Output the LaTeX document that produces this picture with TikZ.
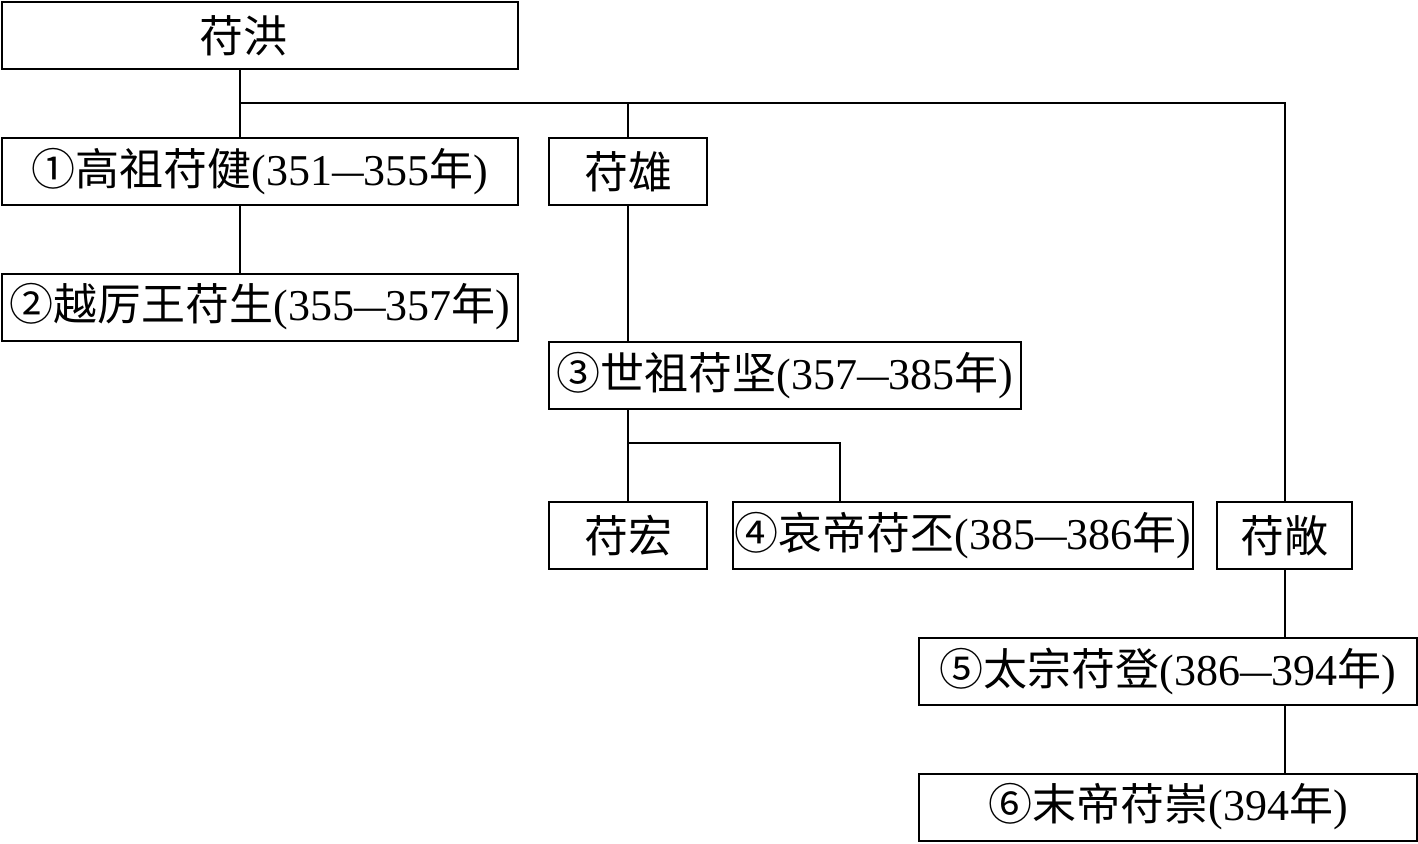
\documentclass[tikz,border=0pt]{standalone}
\usepackage{fontspec}
\usepackage{graphicx}
\setmainfont{Liberation Serif}
\newfontfamily\cjk{Noto Sans CJK SC}
\newcommand{\yeardash}{\scalebox{0.72}[1]{—}}

\begin{document}
\begin{tikzpicture}[x=0.5pt, y=-0.5pt, line width=1pt,
    person/.style = {rectangle, draw, minimum height=33.5pt, inner sep=0pt},
    font=\fontsize{22pt}{26pt}\selectfont]
  \useasboundingbox (0, 0) rectangle (1418, 843);

  % Persons.
  \node at (260, 35.5) [person, minimum width=258pt, name=Hong] {\cjk\hspace*{-17pt}苻洪};
  \node at (260, 171.5) [person, minimum width=258pt, name=Gaozu] {{\cjk ①高祖苻健}(351\yeardash355{\cjk 年})};
  \node at (628, 171.5) [person, minimum width=79pt, name=Xiong] {\cjk 苻雄};
  \node at (260, 307) [person, minimum width=258pt, name=Yueli] {{\cjk ②越厉王苻生}(355\yeardash357{\cjk 年})};
  \node at (785, 375.5) [person, minimum width=236pt, name=Shizu] {{\cjk ③世祖苻坚}(357\yeardash385{\cjk 年})};
  \node at (628, 535.5) [person, minimum width=79pt, name=HongSon] {\cjk 苻宏};
  \node at (963, 535.5) [person, minimum width=230pt, name=Aidi] {{\cjk ④哀帝苻丕}(385\yeardash386{\cjk 年})};
  \node at (1284.5, 535.5) [person, minimum width=67.5pt, name=Chang] {\cjk 苻敞};
  \node at (1168, 671.5) [person, minimum width=249pt, name=Taizong] {{\cjk ⑤太宗苻登}(386\yeardash394{\cjk 年})};
  \node at (1168, 807) [person, minimum width=249pt, name=Modi] {{\cjk ⑥末帝苻崇}(394{\cjk 年})};

  % Sons of Fu Hong
  \coordinate (Trunk) at (240, 103);
  \draw (Trunk |- Hong.south) -- (Trunk |- Gaozu.north);
  \draw (Trunk) -| (Chang.north);
  \draw (Xiong.north) -- (Xiong.north |- Trunk);

  % Lines of descent
  \draw (Trunk |- Gaozu.south) -- (Trunk |- Yueli.north);
  \draw (Xiong.south) -- (Xiong.south |- Shizu.north);
  \coordinate (Fork) at (628, 443);
  \draw (HongSon.north |- Shizu.south) -- (HongSon.north);
  \draw (Fork) -| ([xshift=-61.5pt]Aidi.north);
  \draw (Chang.south) -- (Chang.south |- Taizong.north);
  \draw (Chang.south |- Taizong.south) -- (Chang.south |- Modi.north);
\end{tikzpicture}
\end{document}
